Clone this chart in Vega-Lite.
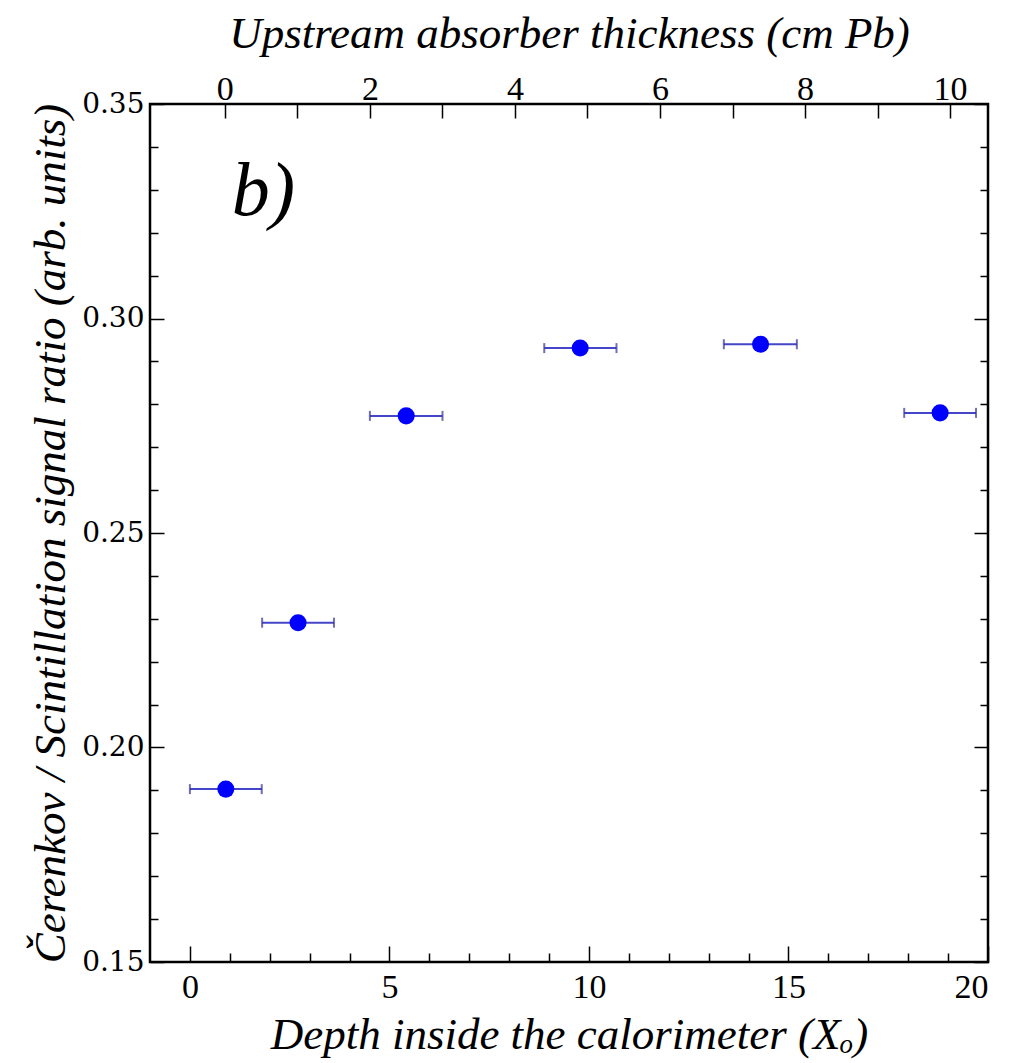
{
  "$schema": "https://vega.github.io/schema/vega-lite/v6.json",
  "autosize": "none",
  "width": 838,
  "height": 858,
  "padding": {"left": 150, "top": 104, "right": 30, "bottom": 101},
  "background": "white",
  "config": {
    "view": {"stroke": "black", "strokeWidth": 2.5},
    "axis": {"domain": false, "grid": false, "tickColor": "black", "tickWidth": 1.5, "labelColor": "black", "titleColor": "black", "titleFont": "Liberation Serif", "titleFontStyle": "italic", "titleFontWeight": "normal", "titleFontSize": 45},
    "axisLeft": {"labelFont": "DejaVu Serif", "labelFontSize": 28},
    "axisBottom": {"labelFont": "Liberation Serif", "labelFontSize": 34},
    "axisTop": {"labelFont": "Liberation Serif", "labelFontSize": 34}
  },
  "data": {"values": [
    {"depth": 0.90, "lo": 0.0, "hi": 1.80, "ratio": 0.1903},
    {"depth": 2.71, "lo": 1.81, "hi": 3.61, "ratio": 0.2291},
    {"depth": 5.42, "lo": 4.51, "hi": 6.33, "ratio": 0.2773},
    {"depth": 9.78, "lo": 8.88, "hi": 10.69, "ratio": 0.2931},
    {"depth": 14.30, "lo": 13.38, "hi": 15.21, "ratio": 0.2940},
    {"depth": 18.80, "lo": 17.90, "hi": 19.70, "ratio": 0.2780}
  ]},
  "layer": [
    {
      "mark": {"type": "rule", "color": "#4545c8", "strokeWidth": 2},
      "encoding": {
        "x": {"field": "lo", "type": "quantitative", "scale": {"domain": [-1, 20], "nice": false, "zero": false},
          "axis": {"orient": "bottom", "values": [0,1,2,3,4,5,6,7,8,9,10,11,12,13,14,15,16,17,18,19,20],
            "labelExpr": "datum.value % 5 === 0 ? datum.label : ''",
            "tickSize": {"condition": {"test": "datum.value % 5 === 0", "value": -16}, "value": -9},
            "labelPadding": 24, "labelFont": "Liberation Serif", "labelFontSize": 34,
            "title": "Depth inside the calorimeter (Xₒ)", "titlePadding": 8}},
        "x2": {"field": "hi"},
        "y": {"field": "ratio", "type": "quantitative", "scale": {"domain": [0.15, 0.35], "nice": false, "zero": false},
          "axis": {"orient": "left", "values": [0.15,0.16,0.17,0.18,0.19,0.20,0.21,0.22,0.23,0.24,0.25,0.26,0.27,0.28,0.29,0.30,0.31,0.32,0.33,0.34,0.35],
            "format": ".2f",
            "labelExpr": "abs(round(datum.value*100) % 5) < 0.5 ? datum.label : ''",
            "tickSize": {"condition": {"test": "abs(round(datum.value*100) % 5) < 0.5", "value": -14}, "value": -8},
            "labelPadding": 20, "labelFont": "DejaVu Serif", "labelFontSize": 28,
            "title": "Čerenkov / Scintillation signal ratio (arb. units)", "titlePadding": 8}}
      }
    },
    {
      "mark": {"type": "tick", "orient": "vertical", "color": "#30309a", "thickness": 2, "size": 10},
      "encoding": {
        "x": {"field": "lo", "type": "quantitative",
          "axis": {"orient": "top", "values": [0.875, 2.6925, 4.51, 6.3275, 8.145, 9.9625, 11.78, 13.5975, 15.415, 17.2325, 19.05],
            "labelExpr": "round((datum.value - 0.875) / 1.8175) % 2 === 0 ? format(round((datum.value - 0.875) / 1.8175), 'd') : ''",
            "tickSize": -14, "labelPadding": 12, "labelFont": "Liberation Serif", "labelFontSize": 34,
            "title": "Upstream absorber thickness (cm Pb)", "titlePadding": 16}},
        "y": {"field": "ratio", "type": "quantitative", "axis": null}
      }
    },
    {
      "mark": {"type": "tick", "orient": "vertical", "color": "#30309a", "thickness": 2, "size": 10},
      "encoding": {
        "x": {"field": "hi", "type": "quantitative", "axis": null},
        "y": {"field": "ratio", "type": "quantitative", "axis": null}
      }
    },
    {
      "mark": {"type": "point", "shape": "circle", "filled": true, "color": "#0000ff", "size": 290, "opacity": 1},
      "encoding": {
        "x": {"field": "depth", "type": "quantitative", "axis": null},
        "y": {"field": "ratio", "type": "quantitative",
          "axis": {"orient": "right", "values": [0.15,0.16,0.17,0.18,0.19,0.20,0.21,0.22,0.23,0.24,0.25,0.26,0.27,0.28,0.29,0.30,0.31,0.32,0.33,0.34,0.35],
            "labels": false, "title": null,
            "tickSize": {"condition": {"test": "abs(round(datum.value*100) % 5) < 0.5", "value": -14}, "value": -8}}}
      }
    },
    {
      "data": {"values": [{"label": "b)"}]},
      "mark": {"type": "text", "font": "Liberation Serif", "fontStyle": "italic", "fontSize": 76, "align": "left", "baseline": "alphabetic", "color": "black"},
      "encoding": {
        "x": {"datum": 1.05, "type": "quantitative", "axis": null},
        "y": {"datum": 0.3241, "type": "quantitative", "axis": null},
        "text": {"field": "label"}
      }
    }
  ],
  "resolve": {"axis": {"x": "independent", "y": "independent"}}
}
